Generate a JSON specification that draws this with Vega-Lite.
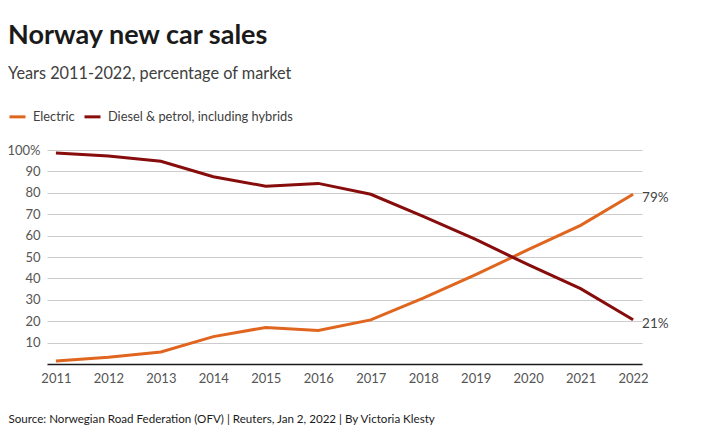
{
  "$schema": "https://vega.github.io/schema/vega-lite/v6.json",
  "width": 595,
  "height": 214,
  "autosize": "none",
  "padding": {"left": 47, "top": 150, "right": 60, "bottom": 78},
  "background": "white",
  "config": {"font": "Lato", "view": {"stroke": null}},
  "title": {
    "text": "Norway new car sales",
    "subtitle": "Years 2011-2022, percentage of market",
    "anchor": "start",
    "frame": "group",
    "dx": -39,
    "fontSize": 27,
    "fontWeight": "bold",
    "color": "#1a1a1a",
    "subtitleFontSize": 16.3,
    "subtitleColor": "#404040",
    "subtitlePadding": 16,
    "offset": 24
  },
  "data": {
    "values": [
      {"year": 2011, "series": "Electric", "value": 1.4},
      {"year": 2012, "series": "Electric", "value": 3.1},
      {"year": 2013, "series": "Electric", "value": 5.6},
      {"year": 2014, "series": "Electric", "value": 12.8},
      {"year": 2015, "series": "Electric", "value": 17.1},
      {"year": 2016, "series": "Electric", "value": 15.7},
      {"year": 2017, "series": "Electric", "value": 20.6},
      {"year": 2018, "series": "Electric", "value": 30.8},
      {"year": 2019, "series": "Electric", "value": 41.8},
      {"year": 2020, "series": "Electric", "value": 53.4},
      {"year": 2021, "series": "Electric", "value": 64.8},
      {"year": 2022, "series": "Electric", "value": 79.3, "label": "79%"},
      {"year": 2011, "series": "Diesel & petrol, including hybrids", "value": 98.6},
      {"year": 2012, "series": "Diesel & petrol, including hybrids", "value": 97.2},
      {"year": 2013, "series": "Diesel & petrol, including hybrids", "value": 94.7},
      {"year": 2014, "series": "Diesel & petrol, including hybrids", "value": 87.5},
      {"year": 2015, "series": "Diesel & petrol, including hybrids", "value": 83.1},
      {"year": 2016, "series": "Diesel & petrol, including hybrids", "value": 84.4},
      {"year": 2017, "series": "Diesel & petrol, including hybrids", "value": 79.3},
      {"year": 2018, "series": "Diesel & petrol, including hybrids", "value": 69.0},
      {"year": 2019, "series": "Diesel & petrol, including hybrids", "value": 58.2},
      {"year": 2020, "series": "Diesel & petrol, including hybrids", "value": 46.4},
      {"year": 2021, "series": "Diesel & petrol, including hybrids", "value": 35.2},
      {"year": 2022, "series": "Diesel & petrol, including hybrids", "value": 20.7, "label": "21%"}
    ]
  },
  "encoding": {
    "x": {
      "field": "year",
      "type": "quantitative",
      "scale": {"domain": [2010.83, 2022.17], "nice": false, "zero": false},
      "axis": {
        "values": [2011, 2012, 2013, 2014, 2015, 2016, 2017, 2018, 2019, 2020, 2021, 2022],
        "format": "d",
        "grid": false,
        "ticks": false,
        "domainColor": "#1a1a1a",
        "domainWidth": 1.5,
        "labelFontSize": 13,
        "labelColor": "#555555",
        "labelPadding": 8,
        "title": "Source: Norwegian Road Federation (OFV) | Reuters, Jan 2, 2022 | By Victoria Klesty",
        "titleFontSize": 11.6,
        "titleFontWeight": "normal",
        "titleColor": "#1a1a1a",
        "titleAlign": "left",
        "titleAnchor": "start",
        "titleBaseline": "alphabetic",
        "titleX": -39,
        "titleY": 58
      }
    },
    "y": {
      "field": "value",
      "type": "quantitative",
      "scale": {"domain": [0, 100], "nice": false},
      "axis": {
        "values": [10, 20, 30, 40, 50, 60, 70, 80, 90, 100],
        "labelExpr": "datum.value == 100 ? '100%' : datum.label",
        "domain": false,
        "ticks": false,
        "gridColor": "#cccccc",
        "gridWidth": 1,
        "labelFontSize": 13,
        "labelColor": "#555555",
        "labelPadding": 7,
        "title": null
      }
    }
  },
  "layer": [
    {
      "mark": {"type": "line", "strokeWidth": 3},
      "encoding": {
        "color": {
          "field": "series",
          "type": "nominal",
          "scale": {
            "domain": ["Electric", "Diesel & petrol, including hybrids"],
            "range": ["#e0661f", "#870c0c"]
          },
          "legend": {
            "orient": "none",
            "legendX": -39,
            "legendY": -43,
            "direction": "horizontal",
            "title": null,
            "symbolType": "stroke",
            "symbolStrokeWidth": 3,
            "symbolSize": 256,
            "labelFontSize": 12.8,
            "labelColor": "#404040",
            "labelLimit": 400,
            "columnPadding": 3,
            "labelOffset": 6
          }
        }
      }
    },
    {
      "transform": [{"filter": "datum.year == 2022"}],
      "mark": {"type": "text", "align": "left", "baseline": "middle", "dx": 9, "dy": 4, "fontSize": 13.5, "color": "#444444"},
      "encoding": {"text": {"field": "label"}}
    }
  ]
}
